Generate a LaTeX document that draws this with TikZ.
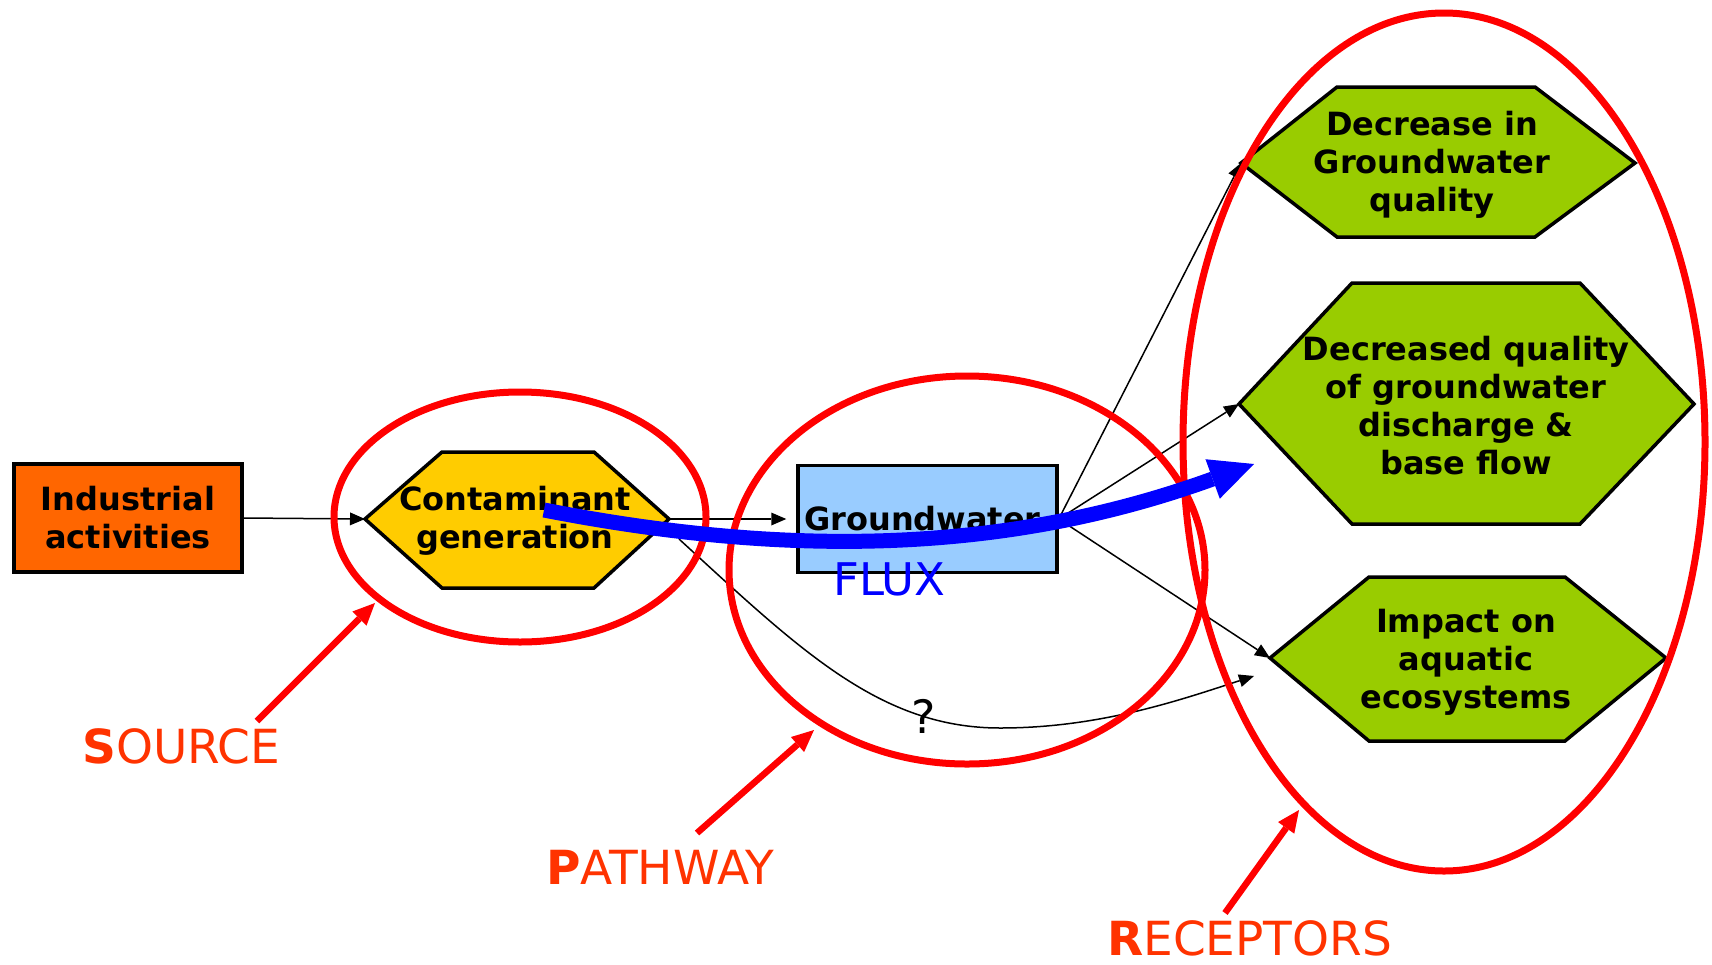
\documentclass[tikz,border=0pt]{standalone}
\usepackage{fontspec}
\setmainfont{DejaVu Sans}
\usetikzlibrary{arrows.meta}
\definecolor{indorange}{HTML}{FF6600}
\definecolor{contyellow}{HTML}{FFCC00}
\definecolor{gwblue}{HTML}{99CCFF}
\definecolor{recgreen}{HTML}{99CC00}
\definecolor{lblred}{HTML}{FF3300}
\definecolor{ellred}{HTML}{FF0000}
\definecolor{fluxblue}{HTML}{0000FF}
\begin{document}
\begin{tikzpicture}[x=1pt,y=-1pt,
  boxtext/.style={font=\bfseries\fontsize{32}{38}\selectfont, align=center, inner sep=0pt},
  shapeline/.style={draw=black, line width=3.5pt, line join=miter},
  conn/.style={line width=1.5pt, -{Triangle[length=15pt,width=13pt,line width=0pt]}},
  ring/.style={draw=ellred, line width=7pt},
  redarrow/.style={draw=ellred, line width=6.5pt, -{Triangle[length=22pt,width=20pt,line width=0pt]}},
  lbl/.style={text=lblred, font=\fontsize{47}{56}\selectfont, inner sep=0pt, anchor=base west},
]
\useasboundingbox (0,0) rectangle (1712,964);
\fill[white] (0,0) rectangle (1712,964);

% source box
\node[boxtext, shapeline, fill=indorange, minimum width=228pt, minimum height=108pt] (ind) at (128,518) {Industrial\\activities};

% contaminant hexagon
\draw[shapeline, fill=contyellow] (365,519) -- (442,452) -- (594,452) -- (669,519) -- (594,588) -- (442,588) -- cycle;
\coordinate (cw) at (365,519);
\coordinate (ce) at (669,519);
\node[boxtext] (cont) at (515,521) {Contaminant\\generation};

% groundwater box
\node[boxtext, shapeline, fill=gwblue, minimum width=259pt, minimum height=107pt] (gw) at (927.5,519) {Groundwater\kern10pt};

% receptor hexagons
\draw[shapeline, fill=recgreen] (1241,163) -- (1337,87) -- (1535,87) -- (1635,163) -- (1535,237) -- (1337,237) -- cycle;
\coordinate (h1w) at (1241,163);
\node[boxtext] (h1) at (1432,165) {Decrease in\\Groundwater\\quality};

\draw[shapeline, fill=recgreen] (1239,404) -- (1352,283) -- (1580,283) -- (1694,404) -- (1580,524) -- (1352,524) -- cycle;
\coordinate (h2w) at (1239,404);
\node[boxtext] (h2) at (1466,406) {Decreased quality\\of groundwater\\discharge \&\\base flow};

\draw[shapeline, fill=recgreen] (1270,658) -- (1369,577) -- (1565,577) -- (1666,658) -- (1565,741) -- (1369,741) -- cycle;
\coordinate (h3w) at (1270,658);
\node[boxtext] (h3) at (1466,662) {Impact on\\aquatic\\ecosystems};

% black connectors
\draw[conn] (ind.east) -- (cw);
\draw[conn, shorten >=10pt] (ce) -- (gw.west);
\draw[conn] (gw.east) -- (h1w);
\draw[conn] (gw.east) -- (h2w);
\draw[conn] (gw.east) -- (h3w);
\coordinate (qs) at (679,539);
\coordinate (qe) at (1254,676);
\draw[conn] (qs) .. controls (800,650) and (880,728) .. (1000,728) .. controls (1100,728) and (1180,700) .. (qe);
\node[font=\fontsize{46}{54}\selectfont, inner sep=0pt] (q) at (924,716) {?};

% red ellipses
\draw[ring] (520,517) ellipse [x radius=186pt, y radius=125pt];
\draw[ring] (967,570) ellipse [x radius=238pt, y radius=194pt];
\draw[ring] (1444,442) ellipse [x radius=261pt, y radius=429pt];

% red pointers
\coordinate (sa) at (257,721);
\coordinate (sb) at (375,603);
\coordinate (pa) at (697,833);
\coordinate (pb) at (814,730);
\coordinate (ra) at (1225,913);
\coordinate (rb) at (1299,810);
\draw[redarrow] (sa) -- (sb);
\draw[redarrow] (pa) -- (pb);
\draw[redarrow] (ra) -- (rb);

% blue flux arrow
\coordinate (fa) at (544,510);
\coordinate (fb) at (1254,464);
\draw[draw=fluxblue, line width=15pt, -{Triangle[length=44pt,width=42pt,line width=0pt]}] (fa) .. controls (780,556) and (1000,556) .. (fb);
\node[text=fluxblue, font=\fontsize{45}{54}\selectfont, inner sep=0pt, anchor=base west] (flux) at (833,595) {FLUX};

% labels
\node[lbl] (src) at (82,763) {\textbf{S}OURCE};
\node[lbl] (pth) at (546,884) {\textbf{P}ATHWAY};
\node[lbl] (rec) at (1107,955) {\textbf{R}ECEPTORS};
\end{tikzpicture}
\end{document}
